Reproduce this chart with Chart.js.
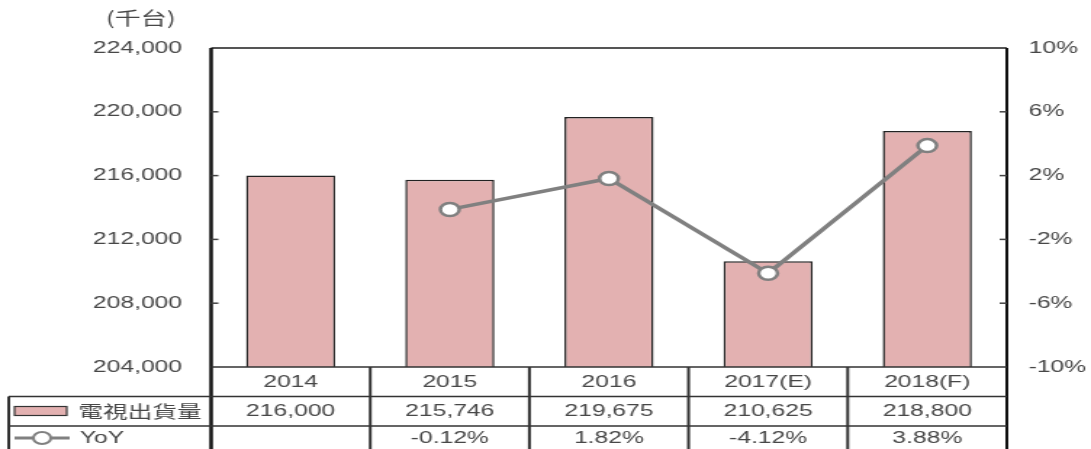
<!DOCTYPE html>
<html>
<head>
<meta charset="utf-8">
<script src="https://cdn.jsdelivr.net/npm/chart.js@4"></script>
<style>
  body { margin: 0; background: #fff; }
  #tvChart { display: block; }
</style>
</head>
<body>
<!-- the original picture is stretched sideways, so the canvas is drawn narrow and widened by inline css -->
<canvas id="tvChart" width="752" height="449" style="width:1091px;height:449px"></canvas>
<script>
const years = ['2014', '2015', '2016', '2017(E)', '2018(F)'];
const shipments = [216000, 215746, 219675, 210625, 218800];
const yoy = [null, -0.12, 1.82, -4.12, 3.88];
const shipmentTicks = [204000, 208000, 212000, 216000, 220000, 224000];
const yoyTicks = [-10, -6, -2, 2, 6, 10];
const unitLabel = '(千台)';
const seriesNames = ['電視出貨量', 'YoY'];

const barPink = '#e3b1b1';
const lineGrey = '#808080';
const textGrey = '#474747';
const fontFamily = '"Liberation Sans", Arial, sans-serif';
const cjkFamily = '"Noto Sans CJK TC", "Noto Sans CJK SC", sans-serif';

// frame, inside tick marks, unit label and the data table under the plot
const tablePlugin = {
  id: 'tablePlugin',
  afterDraw(chart) {
    const ctx = chart.ctx;
    const area = chart.chartArea;
    const x = chart.scales.x;
    const yL = chart.scales.y;
    const yR = chart.scales.y2;
    const half = (x.getPixelForValue(1) - x.getPixelForValue(0)) / 2;
    const rowH = 29.5;
    const r0 = area.bottom, r1 = r0 + rowH, r2 = r0 + 2 * rowH;
    const bottom = chart.height;
    const tableLeft = 6;

    ctx.save();

    // plot frame
    ctx.strokeStyle = '#555';
    ctx.lineWidth = 2;
    ctx.beginPath();
    ctx.moveTo(area.left, area.top);
    ctx.lineTo(area.right, area.top);
    ctx.stroke();
    ctx.strokeStyle = '#111';
    ctx.lineWidth = 2.5;
    ctx.beginPath();
    ctx.moveTo(area.left, area.top);
    ctx.lineTo(area.left, bottom);
    ctx.stroke();
    ctx.lineWidth = 2;
    ctx.beginPath();
    ctx.moveTo(area.right, area.top);
    ctx.lineTo(area.right, bottom);
    ctx.stroke();

    // short tick marks pointing into the plot
    ctx.strokeStyle = '#444';
    ctx.lineWidth = 1.5;
    shipmentTicks.slice(1, -1).forEach(v => {
      const py = yL.getPixelForValue(v);
      ctx.beginPath();
      ctx.moveTo(area.left, py);
      ctx.lineTo(area.left + 5, py);
      ctx.stroke();
    });
    yoyTicks.slice(1, -1).forEach(v => {
      const py = yR.getPixelForValue(v);
      ctx.beginPath();
      ctx.moveTo(area.right - 5, py);
      ctx.lineTo(area.right, py);
      ctx.stroke();
    });

    // unit label
    ctx.fillStyle = textGrey;
    ctx.font = '18px ' + cjkFamily;
    ctx.textAlign = 'center';
    ctx.textBaseline = 'middle';
    ctx.fillText(unitLabel, 97, 18);

    // table grid
    ctx.strokeStyle = '#333';
    ctx.lineWidth = 1.5;
    ctx.beginPath();
    ctx.moveTo(area.left, r0);
    ctx.lineTo(area.right, r0);
    ctx.moveTo(tableLeft, r1);
    ctx.lineTo(area.right, r1);
    ctx.moveTo(tableLeft, r2);
    ctx.lineTo(area.right, r2);
    ctx.stroke();
    ctx.lineWidth = 2;
    ctx.beginPath();
    ctx.moveTo(tableLeft, r1);
    ctx.lineTo(tableLeft, bottom);
    for (let i = 1; i < years.length; i++) {
      const px = x.getPixelForValue(i) - half;
      ctx.moveTo(px, r0);
      ctx.lineTo(px, bottom);
    }
    ctx.stroke();

    // table text
    ctx.fillStyle = textGrey;
    ctx.font = '17px ' + fontFamily;
    ctx.textAlign = 'center';
    years.forEach((yr, i) => {
      const px = x.getPixelForValue(i);
      ctx.fillText(yr, px, r0 + 15);
      ctx.fillText(shipments[i].toLocaleString('en-US'), px, r1 + 15);
      if (yoy[i] !== null) ctx.fillText(yoy[i].toFixed(2) + '%', px, r2 + 12);
    });

    // legend keys in the first column
    ctx.fillStyle = barPink;
    ctx.strokeStyle = '#333';
    ctx.lineWidth = 1.2;
    ctx.fillRect(10, r1 + 10, 36, 9);
    ctx.strokeRect(10, r1 + 10, 36, 9);
    ctx.fillStyle = textGrey;
    ctx.textAlign = 'left';
    ctx.font = '17px ' + cjkFamily;
    ctx.fillText(seriesNames[0], 54, r1 + 15);

    ctx.strokeStyle = lineGrey;
    ctx.lineWidth = 3;
    ctx.beginPath();
    ctx.moveTo(10, r2 + 12);
    ctx.lineTo(48, r2 + 12);
    ctx.stroke();
    ctx.fillStyle = '#fff';
    ctx.lineWidth = 2;
    ctx.beginPath();
    ctx.arc(29, r2 + 12, 6, 0, Math.PI * 2);
    ctx.fill();
    ctx.stroke();
    ctx.fillStyle = textGrey;
    ctx.font = '17px ' + fontFamily;
    ctx.fillText(seriesNames[1], 55, r2 + 12);

    ctx.restore();
  }
};

const chart = new Chart(document.getElementById('tvChart'), {
  data: {
    labels: years,
    datasets: [
      {
        type: 'line',
        label: seriesNames[1],
        data: yoy,
        yAxisID: 'y2',
        borderColor: lineGrey,
        borderWidth: 3.5,
        pointRadius: 6.5,
        pointBorderWidth: 2.5,
        pointBackgroundColor: '#fff',
        pointBorderColor: lineGrey,
        tension: 0,
        order: 0
      },
      {
        type: 'bar',
        label: seriesNames[0],
        data: shipments,
        yAxisID: 'y',
        backgroundColor: barPink,
        borderColor: '#222',
        borderWidth: 1.5,
        categoryPercentage: 1,
        barPercentage: 0.56,
        order: 1
      }
    ]
  },
  options: {
    responsive: false,
    animation: false,
    layout: { padding: { top: 48, bottom: 82, left: 0, right: 0 } },
    plugins: {
      legend: { display: false },
      tooltip: { enabled: false }
    },
    scales: {
      x: { display: false },
      y: {
        position: 'left',
        min: shipmentTicks[0],
        max: shipmentTicks[shipmentTicks.length - 1],
        ticks: {
          stepSize: shipmentTicks[1] - shipmentTicks[0],
          padding: 20,
          color: textGrey,
          font: { family: fontFamily, size: 17 },
          callback: v => v.toLocaleString('en-US')
        },
        grid: { display: false, drawTicks: false },
        border: { display: false },
        afterFit: s => { s.width = 145.5; }
      },
      y2: {
        position: 'right',
        min: yoyTicks[0],
        max: yoyTicks[yoyTicks.length - 1],
        ticks: {
          stepSize: yoyTicks[1] - yoyTicks[0],
          padding: 15,
          color: textGrey,
          font: { family: fontFamily, size: 17 },
          callback: v => v + '%'
        },
        grid: { display: false, drawTicks: false },
        border: { display: false },
        afterFit: s => { s.width = 58; }
      }
    }
  },
  plugins: [tablePlugin]
});
</script>
</body>
</html>
